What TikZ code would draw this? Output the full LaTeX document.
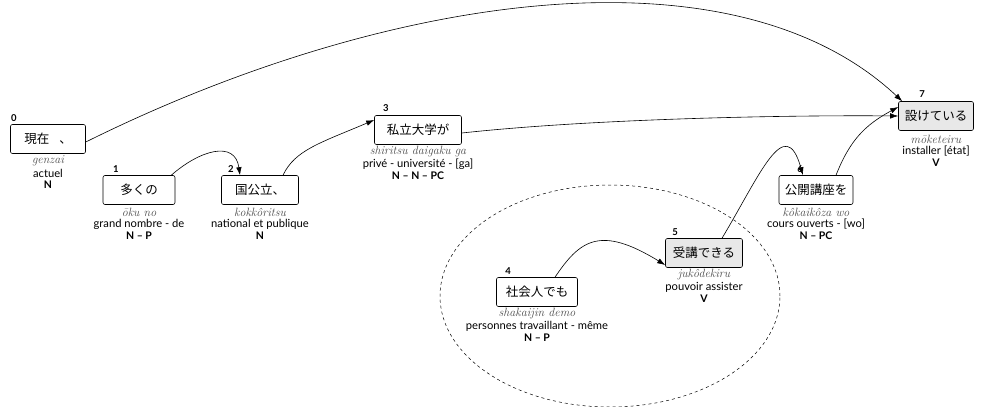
\documentclass[tikz,border=0pt]{standalone}
\usepackage{fontspec}
\newfontfamily\jp{Noto Sans CJK JP}
\newfontfamily\glossfont{Lato}
\usetikzlibrary{arrows.meta,shapes.geometric}
\begin{document}
\begin{tikzpicture}[x=1pt,y=-1pt,
  box/.style={draw, rounded corners=2pt, minimum height=29pt, inner sep=0pt, line width=0.6pt, font=\jp\fontsize{12.5}{14}\selectfont},
  graybox/.style={box, fill=gray!18},
  rom/.style={inner sep=0pt, text=gray!60!black, font=\itshape\fontsize{12}{13}\selectfont},
  gl/.style={inner sep=0pt, font=\glossfont\fontsize{11.2}{12}\selectfont},
  posl/.style={inner sep=0pt, font=\glossfont\bfseries\fontsize{10.5}{12}\selectfont},
  num/.style={inner sep=0pt, font=\glossfont\bfseries\fontsize{9.5}{10}\selectfont},
  arr/.style={-{Latex[length=8pt,width=5.5pt]}, line width=0.6pt},
  grp/.style={draw, dashed, ellipse, line width=0.5pt}
]
\useasboundingbox (0,0) rectangle (983,407);

\node[grp, minimum width=340pt, minimum height=222pt] (g) at (610,296) {};

% node 0
\node[box, minimum width=75pt] (n0) at (48,139) {現在\hspace{10pt}、};
\node[num] (l0) at (14,118) {0};
\node[rom] (r0) at (48,161) {genzai};
\node[gl] (g0) at (48,173) {actuel};
\node[posl] (p0) at (48,185) {N};

% node 1
\node[box, minimum width=72pt] (n1) at (139,190) {多くの};
\node[num] (l1) at (116,169) {1};
\node[rom] (r1) at (139,212) {ōku no};
\node[gl] (g1) at (139,224) {grand nombre - de};
\node[posl] (p1) at (139,236) {N – P};

% node 2
\node[box, minimum width=77pt] (n2) at (260,190) {国公立、};
\node[num] (l2) at (231,169) {2};
\node[rom] (r2) at (260,212) {kokkôritsu};
\node[gl] (g2) at (260,224) {national et publique};
\node[posl] (p2) at (260,236) {N};

% node 3
\node[box, minimum width=87pt] (n3) at (418,130) {私立大学が};
\node[num] (l3) at (386,108) {3};
\node[rom] (r3) at (418,152) {shiritsu daigaku ga};
\node[gl] (g3) at (418,164) {privé - université - [ga]};
\node[posl] (p3) at (418,176) {N – N – PC};

% node 4
\node[box, minimum width=81pt] (n4) at (537,292) {社会人でも};
\node[num] (l4) at (508,271) {4};
\node[rom] (r4) at (537,314) {shakaijin demo};
\node[gl] (g4) at (537,326) {personnes travaillant - même};
\node[posl] (p4) at (537,338) {N – P};

% node 5
\node[graybox, minimum width=77pt] (n5) at (704,253) {受講できる};
\node[num] (l5) at (675,232) {5};
\node[rom] (r5) at (704,275) {jukôdekiru};
\node[gl] (g5) at (704,287) {pouvoir assister};
\node[posl] (p5) at (704,299) {V};

% node 6
\node[box, minimum width=74pt] (n6) at (816,190) {公開講座を};
\node[num] (l6) at (800,169) {6};
\node[rom] (r6) at (816,212) {kôkaikôza wo};
\node[gl] (g6) at (816,224) {cours ouverts - [wo]};
\node[posl] (p6) at (816,236) {N – PC};

% node 7
\node[graybox, minimum width=75pt] (n7) at (936,116) {設けている};
\node[num] (l7) at (922,94) {7};
\node[rom] (r7) at (936,139) {mōketeiru};
\node[gl] (g7) at (936,151) {installer [état]};
\node[posl] (p7) at (936,163) {V};

% connectors
\draw[arr] ([yshift=-3pt]n0.east) .. controls (380,-4) and (730,-60) .. ([xshift=4pt]n7.north west);
\draw[arr] ([yshift=-3pt]n3.east) .. controls (600,118) and (800,115) .. (n7.west);
\draw[arr] ([xshift=-4pt]n1.north east) .. controls (200,150) and (235,140) .. ([xshift=-20pt]n2.north);
\draw[arr] ([xshift=23pt]n2.north) .. controls (295,150) and (320,143) .. ([yshift=10pt]n3.west);
\draw[arr] ([xshift=18pt]n4.north) .. controls (580,240) and (600,225) .. ([yshift=-12pt]n5.west);
\draw[arr] ([xshift=18pt]n5.north) .. controls (760,175) and (785,112) .. ([xshift=-13pt]n6.north);
\draw[arr] ([xshift=20pt]n6.north) .. controls (850,140) and (865,125) .. ([yshift=9pt]n7.west);
\end{tikzpicture}
\end{document}
